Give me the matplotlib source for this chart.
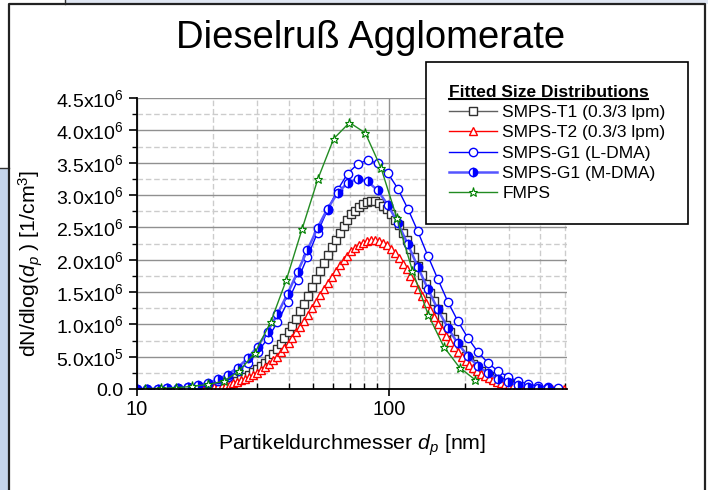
import matplotlib
matplotlib.use('Agg')
import numpy as np
import matplotlib.pyplot as plt
from matplotlib.lines import Line2D
from matplotlib.patches import Rectangle
from matplotlib.ticker import FixedLocator, FixedFormatter, NullFormatter

plt.rcParams['font.family'] = ['Liberation Sans', 'DejaVu Sans']
plt.rcParams['mathtext.fontset'] = 'custom'
plt.rcParams['mathtext.rm'] = 'Liberation Sans'
plt.rcParams['mathtext.it'] = 'Liberation Sans:italic'
plt.rcParams['mathtext.bf'] = 'Liberation Sans:bold'

# SMPS (TSI) channel midpoints [nm]
smps_d = [10.2, 10.6, 10.9, 11.3, 11.8, 12.2, 12.6, 13.1, 13.6, 14.1,
          14.6, 15.1, 15.7, 16.3, 16.8, 17.5, 18.1, 18.8, 19.5, 20.2,
          20.9, 21.7, 22.5, 23.3, 24.1, 25.0, 25.9, 26.9, 27.9, 28.9,
          30.0, 31.1, 32.2, 33.4, 34.6, 35.9, 37.2, 38.5, 40.0, 41.4,
          42.9, 44.5, 46.1, 47.8, 49.6, 51.4, 53.3, 55.2, 57.3, 59.4,
          61.5, 63.8, 66.1, 68.5, 71.0, 73.7, 76.4, 79.1, 82.0, 85.1,
          88.2, 91.4, 94.7, 98.2, 101.8, 105.5, 109.4, 113.4, 117.6, 121.9,
          126.3, 131.0, 135.8, 140.7, 145.9, 151.2, 156.8, 162.5, 168.5, 174.7,
          181.1, 187.7, 194.6, 201.7, 209.1, 216.7, 224.7, 232.9, 241.4, 250.3,
          259.5, 269.0, 278.8, 289.0, 299.6, 310.6, 322.0, 333.8, 346.0, 358.7,
          371.8, 385.4, 399.5, 414.2, 429.4, 445.1, 461.4, 478.3, 495.8]

# SMPS-T1, channels 22..94 (values in 1e6 /cm3)
t1_d = smps_d[22:95]
t1_n = [0.074, 0.090, 0.109, 0.131, 0.156, 0.186, 0.220, 0.258, 0.302, 0.352,
        0.408, 0.470, 0.538, 0.613, 0.695, 0.783, 0.879, 0.981, 1.09, 1.20,
        1.32, 1.44, 1.57, 1.70, 1.82, 1.95, 2.07, 2.20, 2.31, 2.42,
        2.52, 2.62, 2.70, 2.76, 2.82, 2.86, 2.89, 2.90, 2.90, 2.87,
        2.83, 2.78, 2.71, 2.62, 2.53, 2.42, 2.30, 2.17, 2.04, 1.90,
        1.77, 1.63, 1.49, 1.36, 1.23, 1.11, 0.99, 0.88, 0.78, 0.685,
        0.597, 0.518, 0.447, 0.384, 0.327, 0.277, 0.233, 0.195, 0.162, 0.134,
        0.110, 0.090, 0.073]

# SMPS-T2, channels 16..108
t2_d = smps_d[16:109]
t2_n = [0.019, 0.024, 0.029, 0.036, 0.044, 0.054, 0.065, 0.079, 0.094, 0.113,
        0.134, 0.158, 0.186, 0.217, 0.253, 0.293, 0.338, 0.387, 0.442, 0.501,
        0.566, 0.635, 0.711, 0.790, 0.875, 0.963, 1.05, 1.15, 1.25, 1.35,
        1.45, 1.54, 1.64, 1.73, 1.83, 1.91, 1.99, 2.06, 2.13, 2.18,
        2.23, 2.26, 2.29, 2.30, 2.30, 2.29, 2.26, 2.22, 2.17, 2.10,
        2.03, 1.94, 1.85, 1.75, 1.65, 1.55, 1.44, 1.33, 1.22, 1.11,
        1.01, 0.911, 0.817, 0.727, 0.644, 0.567, 0.497, 0.431, 0.372, 0.319,
        0.273, 0.232, 0.196, 0.164, 0.137, 0.113, 0.093, 0.076, 0.062, 0.050,
        0.040, 0.032, 0.026, 0.020, 0.016, 0.012, 0.009, 0.007, 0.005, 0.004,
        0.003, 0.002, 0.002]

# SMPS-G1 channels [nm]
g1_d = [10.0, 11.0, 12.1, 13.2, 14.5, 15.9, 17.4, 19.1, 21.0, 22.9,
        25.1, 27.5, 30.1, 33.0, 36.1, 39.6, 43.4, 47.5, 52.1, 57.1,
        62.6, 68.6, 75.2, 82.4, 90.3, 99.0, 108.5, 118.9, 130.3, 142.8,
        156.5, 171.5, 188.0, 206, 226, 248, 271, 297, 326, 357,
        391, 429, 470]
g1_l = [0.001, 0.002, 0.005, 0.008, 0.015, 0.027, 0.045, 0.075, 0.121, 0.183,
        0.276, 0.402, 0.566, 0.779, 1.03, 1.34, 1.68, 2.04, 2.42, 2.77,
        3.08, 3.33, 3.48, 3.54, 3.49, 3.34, 3.10, 2.79, 2.44, 2.06,
        1.70, 1.35, 1.05, 0.79, 0.57, 0.40, 0.28, 0.19, 0.12, 0.075,
        0.046, 0.027, 0.015]
g1_m = [0.0015, 0.003, 0.006, 0.011, 0.020, 0.034, 0.057, 0.093, 0.149, 0.223,
        0.331, 0.474, 0.657, 0.889, 1.16, 1.47, 1.81, 2.15, 2.49, 2.79,
        3.03, 3.19, 3.25, 3.21, 3.07, 2.85, 2.57, 2.24, 1.89, 1.55,
        1.23, 0.946, 0.705, 0.510, 0.355, 0.240, 0.160, 0.102, 0.063, 0.038,
        0.022, 0.012]

# FMPS channels [nm]
fmps_d = [10.8, 12.4, 14.3, 16.5, 19.1, 22.1, 25.5, 29.4, 34.0, 39.2,
          45.3, 52.3, 60.4, 69.8, 80.6, 93.1, 107.5, 124.1, 143.3, 165.5,
          191.1, 220.7]
fmps_n = [0.005, 0.01, 0.02, 0.04, 0.07, 0.12, 0.28, 0.56, 1.04, 1.69,
          2.48, 3.25, 3.87, 4.12, 3.96, 3.42, 2.65, 1.83, 1.15, 0.65,
          0.33, 0.14]

labels = ['SMPS-T1 (0.3/3 lpm)', 'SMPS-T2 (0.3/3 lpm)', 'SMPS-G1 (L-DMA)',
          'SMPS-G1 (M-DMA)', 'FMPS']

y_ticks = [0, 0.5e6, 1.0e6, 1.5e6, 2.0e6, 2.5e6, 3.0e6, 3.5e6, 4.0e6, 4.5e6]
y_tick_labels = ['0.0', '5.0x10$^5$', '1.0x10$^6$', '1.5x10$^6$', '2.0x10$^6$',
                 '2.5x10$^6$', '3.0x10$^6$', '3.5x10$^6$', '4.0x10$^6$', '4.5x10$^6$']
x_ticks = [10, 100]
x_tick_labels = ['10', '100']

W, H = 708, 490
fig = plt.figure(figsize=(W / 100, H / 100), dpi=100)
fig.patch.set_facecolor('white')

# slide background around the chart frame
fig.add_artist(Rectangle((0, 0), 9 / W, (H - 168) / H, transform=fig.transFigure,
                         facecolor='#c5d5eb', edgecolor='none', zorder=0))
fig.add_artist(Rectangle((65 / W, 1 - 4 / H), (W - 65) / W, 4 / H, transform=fig.transFigure,
                         facecolor='#dfe6f2', edgecolor='none', zorder=0))
fig.add_artist(Line2D([0, 9 / W], [1 - 168 / H] * 2, transform=fig.transFigure,
                      color='#333333', lw=1))
fig.add_artist(Line2D([65 / W] * 2, [1 - 4 / H, 1], transform=fig.transFigure,
                      color='#333333', lw=1))
fig.add_artist(Line2D([9 / W, 9 / W, 705 / W, 705 / W], [0, 1 - 4 / H, 1 - 4 / H, 0],
                      transform=fig.transFigure, color='#222222', lw=1.6))

ax = fig.add_axes([137 / W, 1 - 389 / H, 430 / W, 291 / H])
ax.set_xscale('log')

sc = 1e6
ax.plot(t1_d, np.array(t1_n) * sc, color='#606060', lw=1, marker='s', ms=5.2,
        mfc='white', mec='#303030', mew=1.0, label=labels[0])
ax.plot(t2_d, np.array(t2_n) * sc, color='red', lw=1, marker='^', ms=5.8,
        mfc='white', mec='red', mew=1.0, label=labels[1])
ax.plot(g1_d, np.array(g1_l) * sc, color='blue', lw=1, marker='o', ms=6,
        mfc='white', mec='blue', mew=1, label=labels[2])
ax.plot(g1_d[:len(g1_m)], np.array(g1_m) * sc, color='#5555ff', lw=1.8, marker='o', ms=6,
        fillstyle='right', mfc='blue', mfcalt='white', mec='blue', mew=1, label=labels[3])
ax.plot(fmps_d, np.array(fmps_n) * sc, color='#228b22', lw=1, marker='*', ms=6.5,
        mfc='white', mec='green', mew=0.8, label=labels[4])

ax.set_xlim(10, 510)
ax.set_ylim(0, 4.5e6)

ax.yaxis.set_major_locator(FixedLocator(y_ticks))
ax.yaxis.set_major_formatter(FixedFormatter(y_tick_labels))
ax.yaxis.set_minor_locator(FixedLocator([v + 0.25e6 for v in y_ticks[:-1]]))
ax.xaxis.set_major_locator(FixedLocator(x_ticks))
ax.xaxis.set_major_formatter(FixedFormatter(x_tick_labels))
ax.xaxis.set_minor_locator(FixedLocator([20, 30, 40, 50, 60, 70, 80, 90, 200, 300, 400, 500]))
ax.xaxis.set_minor_formatter(NullFormatter())

ax.grid(True, which='major', color='#909090', lw=1, ls='-')
ax.grid(True, which='minor', color='#cccccc', lw=1, ls=(0, (4, 2)))
ax.set_axisbelow(True)

for s in ['top', 'right']:
    ax.spines[s].set_visible(False)
for s in ['left', 'bottom']:
    ax.spines[s].set_linewidth(1.3)

ax.tick_params(axis='y', which='major', direction='out', length=6, width=1.2, labelsize=14)
ax.tick_params(axis='y', which='minor', direction='out', length=3.5, width=1)
ax.tick_params(axis='x', which='major', direction='out', length=5, width=1.2, labelsize=14.5, pad=3)
ax.tick_params(axis='x', which='minor', direction='in', length=4, width=1)

ax.set_xlabel('Partikeldurchmesser $d_p$ [nm]', fontsize=15.3)
ax.set_ylabel('dN/dlog($d_p$ ) [1/cm$^3$]', fontsize=15.3)
ax.xaxis.set_label_coords(0.5, -0.15)
ax.yaxis.set_label_coords(-0.215, 0.433)

fig.text(371 / W, 1 - 48 / H, 'Dieselruß Agglomerate', ha='center', va='baseline', fontsize=27.5)

leg = ax.legend(loc='upper left', bbox_to_anchor=(426 / W, 1 - 62 / H),
                bbox_transform=fig.transFigure, borderaxespad=0,
                fontsize=12.5, numpoints=1,
                title='Fitted Size Distributions',
                title_fontproperties={'weight': 'bold', 'size': 12.5},
                alignment='left', fancybox=False,
                framealpha=1, edgecolor='black', borderpad=1.3,
                handlelength=2.8, handletextpad=0.3, labelspacing=0.3)
leg.get_frame().set_linewidth(1.2)

# underline the legend title
fig.canvas.draw()
tb = leg.get_title().get_window_extent()
fig.add_artist(Line2D([tb.x0 / W, tb.x1 / W], [(tb.y0 + 1) / H] * 2,
                      transform=fig.transFigure, color='black', lw=1.5, zorder=10))

fig.savefig('out.png', dpi=100)
